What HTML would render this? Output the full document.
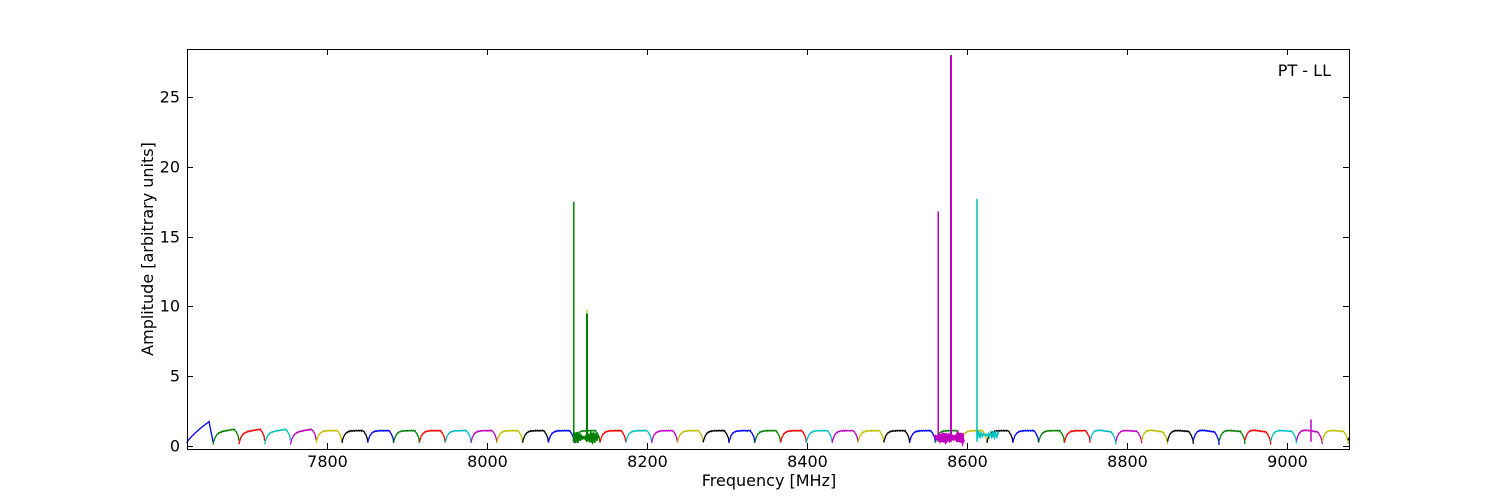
<!DOCTYPE html>
<html><head><meta charset="utf-8"><style>
html,body{margin:0;padding:0;background:#fff;width:1500px;height:500px;overflow:hidden}
svg text{font-family:"DejaVu Sans","Liberation Sans",sans-serif;font-size:16px;fill:#000}
</style></head><body>
<svg id="s" width="1500" height="500" xmlns="http://www.w3.org/2000/svg">
<g id="data"></g>
<rect x="187.5" y="49.5" width="1162" height="400" fill="none" stroke="#000" stroke-width="1"/>
<g id="ticks" stroke="#000" stroke-width="1"></g>
<g id="labels"></g>
<text x="769" y="486" text-anchor="middle">Frequency [MHz]</text>
<text transform="translate(153,249) rotate(-90)" text-anchor="middle">Amplitude [arbitrary units]</text>
<text x="1331" y="76" text-anchor="end">PT - LL</text>
</svg>
<script>
var X=f=>327+(f-7800)*0.8, Y=v=>446-v*13.96;
var ns="http://www.w3.org/2000/svg";
var tk=document.getElementById('ticks'),lb=document.getElementById('labels'),dg=document.getElementById('data');
function el(p,t,a){var e=document.createElementNS(ns,t);for(var k in a)e.setAttribute(k,a[k]);p.appendChild(e);return e;}
for(var f=7800;f<=9000;f+=200){var x=Math.round(X(f))+0.5;
 el(tk,'line',{x1:x,x2:x,y1:449,y2:443});el(tk,'line',{x1:x,x2:x,y1:49,y2:55});
 var t=el(lb,'text',{x:x,y:467,'text-anchor':'middle'});t.textContent=f;}
for(var v=0;v<=25;v+=5){var y=Math.round(Y(v))+0.5;
 el(tk,'line',{x1:187,x2:193,y1:y,y2:y});el(tk,'line',{x1:1349,x2:1343,y1:y,y2:y});
 var t=el(lb,'text',{x:180,y:y+5,'text-anchor':'end'});t.textContent=v;}
var cols=['#0000ff','#008000','#ff0000','#00bfbf','#bf00bf','#bfbf00','#000000'];
var w=25.8, x0=213;
var d='M187,'+Y(0.2);
for(var x=187;x<=209;x++){d+=' L'+x+','+Y(0.25+1.5*Math.pow((x-187)/22,0.8));}
d+=' L213,'+Y(0.3);
el(dg,'path',{d:d,fill:'none',stroke:cols[0],'stroke-width':1.3});
for(var k=0;k<46;k++){
 var a=x0+k*w; if(a>1349)break;
 var ci=(k+1+(k>=29?3:0))%7;
 var c=cols[ci],p='',lvl=0.85;
 for(var i=0;i<=40;i++){var t=i/40,x=a+t*w; if(x>1349)break;
  var v=0.25+lvl*(1-Math.exp(-t/0.1));
  if(t>0.82)v=0.25+(v-0.25)*Math.sqrt(Math.max(0,(1-t)/0.18));
  if(k<4||k>=34)v+=(0.5-t)*0.3*((k<4)?-1:1)*(k>=34&&k%2?0.6:1);
  v+=0.03*Math.sin(i*2.3+k);
  p+=(i?' L':'M')+x.toFixed(1)+','+Y(v).toFixed(1);}
 el(dg,'path',{d:p,fill:'none',stroke:c,'stroke-width':1.3});
}
function noisy(f1,f2,c,base,amp,sw){var p='';for(var f=f1;f<=f2;f+=0.7){var v=base+amp*Math.sin(f*2.1)*(0.6+0.4*Math.sin(f*0.3));p+=(f==f1?'M':' L')+X(f).toFixed(1)+','+Y(v).toFixed(1);}el(dg,'path',{d:p,fill:'none',stroke:c,'stroke-width':sw});}
noisy(8108,8140,'#008000',0.6,0.45,1.8);
noisy(8560,8596,'#bf00bf',0.6,0.35,3);
noisy(8612,8640,'#00bfbf',0.8,0.3,1.3);
function spike(f,h,c,sw){var x=X(f);el(dg,'line',{x1:x,x2:x,y1:Y(0.3),y2:Y(h),stroke:c,'stroke-width':sw});}
spike(8108.5,17.5,'#008000',1.5);
spike(8125,9.8,'#bfbf00',1);
spike(8125,9.5,'#008000',2);
spike(8564,16.8,'#bf00bf',1.5);
spike(8580,28,'#bf00bf',2);
spike(8612.5,17.7,'#00bfbf',1.5);
spike(9030,1.9,'#bf00bf',1.5);
</script>
</body></html>
